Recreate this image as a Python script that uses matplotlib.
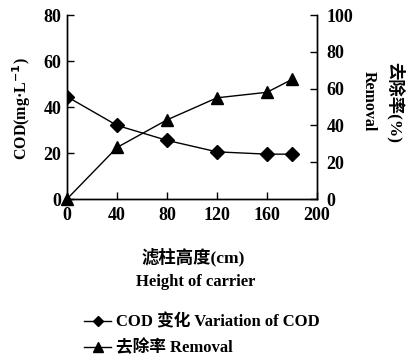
import matplotlib
matplotlib.use("Agg")
import matplotlib.pyplot as plt

# 数据
height_cm = [0, 40, 80, 120, 160, 180]
cod = [44.5, 32, 25.5, 20.5, 19.5, 19.5]
removal = [0, 28, 43, 55, 58, 65]

SERIF = ["Liberation Serif", "Noto Sans CJK SC"]
plt.rcParams["font.family"] = SERIF
plt.rcParams["font.weight"] = "bold"

fig = plt.figure(figsize=(4.09, 3.55), dpi=100)
ax = fig.add_axes([67/409, 1 - 199/355, (317 - 67)/409, (199 - 15)/355])
ax2 = ax.twinx()

l1, = ax.plot(height_cm, cod, color="black", lw=1.0, marker="D", ms=7,
              label="COD 变化 Variation of COD")
l2, = ax2.plot(height_cm, removal, color="black", lw=1.0, marker="^", ms=9,
               label="去除率 Removal", clip_on=False)

ax.set_xlim(0, 200); ax.set_ylim(0, 80)
ax2.set_ylim(0, 100)
ax.set_xticks(range(0, 201, 40))
ax.set_yticks(range(0, 81, 20))
ax2.set_yticks(range(0, 101, 20))

for a in (ax, ax2):
    a.spines["top"].set_visible(False)
    for s in a.spines.values():
        s.set_linewidth(1.0)
ax.tick_params(axis="both", direction="in", length=5, width=1, labelsize=13)
ax.tick_params(axis="x", pad=6)
ax.tick_params(axis="y", pad=4)
ax2.tick_params(axis="y", direction="in", length=5, width=1, labelsize=13, pad=7)

fig.text(22/409, 1 - 109/355, "COD(mg·L$^{-1}$)", rotation=90, ha="center", va="center",
         fontsize=11.5, family=SERIF)
fig.text(369/409, 1 - 101/355, "Removal", rotation=-90, ha="center", va="center",
         fontsize=11.5, family=SERIF)
fig.text(395/409, 1 - 102/355, "去除率(%)", rotation=-90, ha="center", va="center",
         fontsize=12.5, family=SERIF)
fig.text(193/409, 1 - 257/355, "滤柱高度(cm)", ha="center", va="center",
         fontsize=12.5, family=SERIF)
fig.text(196/409, 1 - 282/355, "Height of carrier", ha="center", va="center",
         fontsize=12, family=SERIF)

fig.legend([l1, l2], [l1.get_label(), l2.get_label()], loc="upper left",
           bbox_to_anchor=(76/409, 1 - 306/355), frameon=False, fontsize=12,
           handlelength=1.6, handletextpad=0.3, labelspacing=0.55, borderpad=0,
           markerscale=0.75)

fig.savefig("out.png", dpi=100)
